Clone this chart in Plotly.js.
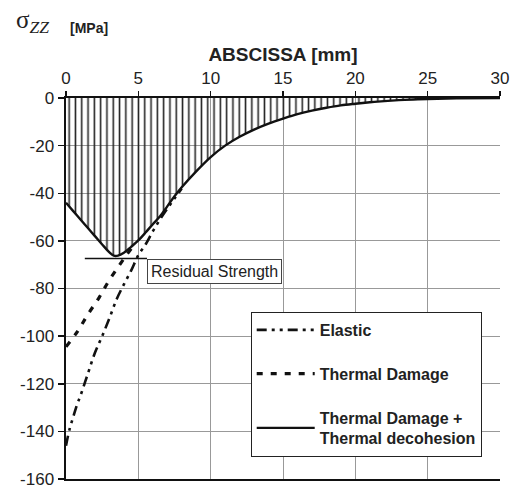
<!DOCTYPE html>
<html>
<head>
<meta charset="utf-8">
<script src="https://cdn.plot.ly/plotly-3.0.1.min.js"></script>
<style>html,body{margin:0;padding:0;background:#fff;}#chart{width:510px;height:488px;}</style>
</head>
<body>
<div id="chart"></div>
<script>
// ---- data ----
const xTicks = [0, 5, 10, 15, 20, 25, 30];
const yTicks = [0, -20, -40, -60, -80, -100, -120, -140, -160];

// Thermal Damage + Thermal decohesion (solid, hatched)
const decohesionX = [0, 0.5, 1, 1.5, 2, 2.5, 3, 3.3, 3.6, 4, 4.5, 5, 5.5, 6, 6.5, 7, 7.5, 8, 9, 10, 11, 12, 13, 14, 15, 16, 17, 18, 19, 20, 21, 22, 23, 24, 25, 27, 30];
const decohesionY = [-44, -47.5, -51, -54.5, -58, -61.5, -64.8, -66.2, -66.2, -65, -62.5, -59.8, -56.5, -53, -49.7, -45.5, -41.3, -37.5, -30.8, -24.8, -20, -16.3, -13.3, -10.8, -8.7, -6.8, -5.3, -4.1, -3.1, -2.4, -1.8, -1.3, -0.9, -0.6, -0.4, -0.15, 0];

// Thermal Damage (dashed)
const damageX = [0, 0.8, 1.5, 2.3, 2.9, 3.6, 4.2, 4.8];
const damageY = [-104.5, -98, -91, -83.7, -77.4, -71, -65.8, -61];

// Elastic (dash-dot-dot)
const elasticX = [0, 0.25, 0.5, 0.75, 1, 1.5, 2, 2.5, 3, 3.5, 4, 4.5, 5, 5.5, 6, 6.5, 7, 7.5, 8];
const elasticY = [-146, -139, -134, -129, -125, -116, -107, -100, -92.5, -84.5, -78.3, -72.5, -66, -61.5, -56, -51, -46.5, -42.2, -38];

// Residual strength
const residualStrength = -67.4;
const residualX = [1.3, 5.6];

const names = ['Elastic', 'Thermal Damage', 'Thermal Damage +<br>Thermal decohesion'];

const traces = [
  { // hatched area under the decohesion curve
    x: decohesionX, y: decohesionY, type: 'scatter', mode: 'lines',
    line: {width: 0, color: 'rgba(0,0,0,0)'}, fill: 'tozeroy',
    fillcolor: 'rgba(0,0,0,0)',
    fillpattern: {shape: '|', fgcolor: '#222', size: 6.3, solidity: 0.25, fillmode: 'replace'},
    showlegend: false, hoverinfo: 'skip'
  },
  {
    x: elasticX, y: elasticY, type: 'scatter', mode: 'lines', name: '<b>' + names[0] + '</b>',
    line: {color: '#111', width: 2.6, dash: '10px,5px,3px,5px,3px,5px', shape: 'spline'},
    legendgroup: 'a'
  },
  {
    x: damageX, y: damageY, type: 'scatter', mode: 'lines', name: '<b>' + names[1] + '</b>',
    line: {color: '#111', width: 3.2, dash: '6px,8px', shape: 'spline'},
    legendgroup: 'b'
  },
  {
    x: decohesionX, y: decohesionY, type: 'scatter', mode: 'lines', name: '<b>' + names[2] + '</b>',
    line: {color: '#111', width: 2.4, shape: 'spline'},
    legendgroup: 'c'
  },
  {
    x: residualX, y: residualX.map(() => residualStrength), type: 'scatter', mode: 'lines',
    line: {color: '#111', width: 1.5}, showlegend: false, hoverinfo: 'skip'
  }
];

const font = 'Liberation Sans, Arial, sans-serif';

const layout = {
  width: 510, height: 488,
  margin: {l: 66, r: 10, t: 98, b: 9},
  paper_bgcolor: '#fff', plot_bgcolor: '#fff',
  font: {family: font, color: '#222', size: 17},
  showlegend: true,
  xaxis: {
    side: 'top', range: [0, 30], tickvals: xTicks, ticktext: xTicks.map(String),
    ticks: 'outside', ticklen: 5, tickwidth: 1.5, tickcolor: '#111',
    showgrid: true, gridcolor: '#999', gridwidth: 1,
    showline: true, linecolor: '#111', linewidth: 2, mirror: true,
    zeroline: false, ticklabeloverflow: 'allow',
    tickfont: {family: font, size: 17, color: '#222'},
    title: {text: 'ABSCISSA [mm]', font: {family: font, size: 19, color: '#222', weight: 'bold'}, standoff: 3}
  },
  yaxis: {
    range: [-160, 0], tickvals: yTicks, ticktext: yTicks.map(String),
    ticks: 'outside', ticklen: 6, tickwidth: 1.5, tickcolor: '#111',
    showgrid: true, gridcolor: '#999', gridwidth: 1,
    showline: true, linecolor: '#111', linewidth: 2.5, mirror: false,
    zeroline: false, ticklabeloverflow: 'allow',
    tickfont: {family: font, size: 17, color: '#222'}
  },
  legend: {
    x: 0.4256, y: 0.4385, xanchor: 'left', yanchor: 'top',
    bgcolor: '#fff', bordercolor: '#222', borderwidth: 1,
    font: {family: font, size: 16, color: '#222'},
    traceorder: 'grouped', tracegroupgap: 20, itemwidth: 58
  },
  annotations: [
    {xref: 'paper', yref: 'paper', x: -0.12, y: 1.2, xanchor: 'left', yanchor: 'middle',
     text: 'σ<sub><i>ZZ</i></sub>', showarrow: false,
     font: {family: 'Liberation Serif, Times New Roman, serif', size: 25, color: '#222'}},
    {xref: 'paper', yref: 'paper', x: 0.005, y: 1.185, xanchor: 'left', yanchor: 'middle',
     text: '<b>[MPa]</b>', showarrow: false,
     font: {family: font, size: 14, color: '#222'}},
    {xref: 'x', yref: 'y', x: residualX[1], y: residualStrength, xanchor: 'left', yanchor: 'top',
     text: 'Residual Strength', showarrow: false,
     bgcolor: '#fff', bordercolor: '#444', borderwidth: 1, borderpad: 3,
     font: {family: font, size: 16, color: '#222'}}
  ]
};

Plotly.newPlot('chart', traces, layout, {displayModeBar: false, staticPlot: true});
</script>
</body>
</html>
